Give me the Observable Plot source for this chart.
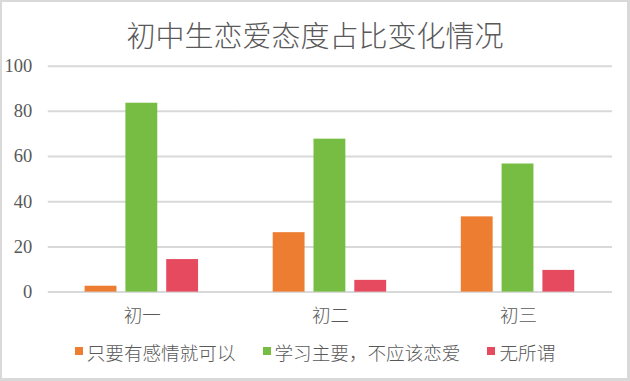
<!DOCTYPE html>
<html>
<head>
<meta charset="utf-8">
<script src="https://cdn.jsdelivr.net/npm/d3@7"></script>
<script src="https://cdn.jsdelivr.net/npm/@observablehq/plot@0.6"></script>
<style>
  html, body { margin: 0; padding: 0; background: #fff; }
  #chart {
    position: relative; width: 630px; height: 381px; box-sizing: border-box;
    border-left: 2px solid #d9d9d9; border-top: 2px solid #d9d9d9;
    border-right: 3px solid #d9d9d9; border-bottom: 3px solid #d9d9d9;
    overflow: hidden; background: #fff;
  }
  #title {
    position: absolute; left: -2px; top: 17px; width: 630px; text-align: center;
    font-family: "Noto Sans CJK SC", sans-serif; font-weight: 300;
    font-size: 29px; line-height: 30px; color: #595959;
  }
  #plot { position: absolute; left: -2px; top: -2px; }
  #legend {
    position: absolute; left: -2px; top: 337px; width: 630px; height: 24px;
    display: flex; justify-content: center; align-items: center;
  }
  div.lg-swatches-wrap { min-height: 0 !important; margin: 0 !important; justify-content: center; flex-wrap: nowrap !important; }
  span.lg-swatch { margin-right: 27px !important; font-family: "Noto Sans CJK SC", sans-serif; font-weight: 300; font-size: 18.6px; color: #595959; }
  span.lg-swatch:last-child { margin-right: 0 !important; }
  span.lg-swatch > svg { margin-right: 4px !important; }
</style>
</head>
<body>
<div id="chart">
  <div id="title">初中生恋爱态度占比变化情况</div>
  <div id="plot"></div>
  <div id="legend"></div>
</div>
<script>
const grades = ["初一", "初二", "初三"];
const series = ["只要有感情就可以", "学习主要，不应该恋爱", "无所谓"];
const seriesA = [2.6, 26.3, 33.3];
const seriesB = [83.6, 67.7, 56.7];
const seriesC = [14.4, 5.2, 9.6];
const yTicks = [0, 20, 40, 60, 80, 100];
const colors = ["#ED7D31", "#77BC43", "#E64A5E"];

const values = [seriesA, seriesB, seriesC];
const data = [];
grades.forEach((g, i) => {
  series.forEach((s, j) => {
    data.push({grade: g, series: s, value: values[j][i]});
  });
});

const chart = Plot.plot({
  width: 630,
  height: 340,
  marginLeft: 48,
  marginRight: 15,
  marginTop: 66,
  marginBottom: 47,
  style: {
    fontFamily: '"Liberation Serif", "Noto Sans CJK SC", serif',
    fontSize: "18.6px",
    color: "#595959",
    background: "transparent",
    overflow: "visible"
  },
  fx: {domain: grades, padding: 0, label: null},
  x: {domain: series, axis: null, paddingInner: 0.21, paddingOuter: 0.87},
  y: {domain: [0, 100], axis: null},
  color: {domain: series, range: colors},
  marks: [
    Plot.gridY(yTicks, {stroke: "#d9d9d9", strokeOpacity: 1, strokeWidth: 2}),
    Plot.barY(data, {fx: "grade", x: "series", y: "value", fill: "series"}),
    Plot.axisY(yTicks, {tickSize: 0, tickPadding: 16, label: null, fill: "#595959", fontSize: "18.6px"}),
    Plot.axisFx({anchor: "bottom", tickSize: 0, tickPadding: 17, label: null, fill: "#595959",
      fontFamily: '"Noto Sans CJK SC", sans-serif', fontWeight: 300, fontSize: "18.6px"})
  ]
});
document.getElementById("plot").appendChild(chart);

const legend = Plot.legend({
  color: {domain: series, range: colors},
  legend: "swatches",
  swatchSize: 8,
  className: "lg"
});
document.getElementById("legend").appendChild(legend);
</script>
</body>
</html>
